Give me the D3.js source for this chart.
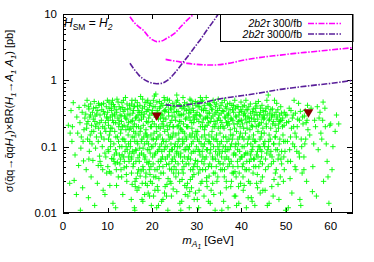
<!DOCTYPE html>
<html><head><meta charset="utf-8">
<script src="https://cdn.jsdelivr.net/npm/d3@7"></script>
<style>body{margin:0;background:#fff}svg{display:block}text{font-family:"Liberation Sans",Arial,sans-serif;}</style>
</head><body><svg id="c" width="374" height="262"></svg>
<script>
const xTicks = [0,10,20,30,40,50,60];
const yTicks = [0.01,0.1,1,10];
const yTickLabels = ["0.01","0.1","1","10"];
const seriesNames = ["2b2τ 300/fb","2b2τ 3000/fb"];
// 300/fb limit, two branches
const lim300a = [[15,9.1],[16,7.4],[17,6.4],[18,5.7],[19,4.7],[20,4.1],[21,3.83],[22,3.9],[23,4.2],[24,4.6],[25,5.1],[26,6.0],[27,7.1],[28,8.3],[29,9.5],[29.4,10]];
const lim300b = [[23,2.07],[24.5,1.98],[26.2,1.9],[28,1.8],[30,1.74],[33.6,1.7],[37,1.8],[41,2.05],[45,2.25],[48.7,2.4],[52,2.55],[56,2.7],[60,2.88],[65,3.1]];
// 3000/fb limit, two branches
const lim3000a = [[15,1.81],[16,1.45],[17,1.2],[18,1.05],[19,0.96],[20,0.91],[21,0.89],[22,0.9],[23,0.96],[24,1.08],[25,1.28],[26,1.55],[27,1.9],[28,2.3],[29,2.85],[30,3.5],[31,4.3],[32,5.4],[33,6.7],[34,8.3],[34.8,10]];
const lim3000b = [[23,0.43],[24,0.42],[26.2,0.41],[28,0.43],[30,0.45],[31.4,0.46],[33.6,0.5],[37,0.55],[40.3,0.59],[45,0.66],[48.7,0.73],[52,0.78],[56,0.84],[60,0.9],[65,1.0]];
// benchmark points
const bench = [[21,0.284],[55,0.32]];
// scan points [mA1, sigma x BR]
const scan = [
[1.2,0.21],[1.5,0.028],[1.8,0.35],[2.0,0.12],[2.3,0.46],[2.5,0.031],[2.7,0.075],[3.0,0.019],[3.1,0.28],[3.3,0.16],[3.5,0.052],[3.6,0.39],[3.8,0.23],[4.0,0.095],[4.1,0.14],[4.3,0.33],[4.4,0.024],[4.6,0.061],[4.7,0.18],[4.9,0.42],[4.9,0.27],[2.1,0.2],[3.9,0.011],[1.6,0.16],[4.5,0.12],
[5.1,0.31],[5.2,0.045],[5.3,0.19],[5.4,0.5],[5.5,0.13],[5.6,0.24],[5.7,0.017],[5.8,0.37],[5.9,0.085],[6.0,0.28],[6.1,0.15],[6.2,0.44],[6.3,0.035],[6.4,0.21],[6.5,0.11],[6.6,0.33],[6.7,0.062],[6.8,0.26],[6.9,0.17],[7.0,0.48],[7.1,0.013],[7.2,0.29],[7.3,0.095],[7.4,0.39],[7.5,0.14],[7.6,0.22],[7.7,0.028],[7.8,0.35],[7.9,0.12],[8.0,0.19],[8.1,0.42],[8.2,0.072],[8.3,0.3],[8.4,0.16],[8.5,0.052],[8.6,0.25],[8.7,0.36],[8.8,0.1],[8.9,0.2],[9.0,0.022],[9.1,0.45],[9.2,0.13],[9.3,0.31],[9.4,0.08],[9.5,0.23],[9.6,0.17],[9.7,0.4],[9.8,0.04],[9.9,0.27],[6.0,0.12],[7.3,0.2],[8.6,0.14],[9.4,0.019],[5.8,0.065],[7.9,0.052],
[10.0,0.33],[10.1,0.09],[10.2,0.21],[10.3,0.47],[10.4,0.15],[10.5,0.026],[10.6,0.28],[10.7,0.12],[10.8,0.38],[10.9,0.066],[11.0,0.19],[11.1,0.25],[11.2,0.014],[11.3,0.43],[11.4,0.11],[11.5,0.31],[11.6,0.17],[11.7,0.055],[11.8,0.23],[11.9,0.36],[12.0,0.08],[12.1,0.52],[12.2,0.14],[12.3,0.27],[12.4,0.035],[12.5,0.2],[12.6,0.4],[12.7,0.1],[12.8,0.3],[12.9,0.16],[13.0,0.045],[13.1,0.24],[13.2,0.46],[13.3,0.13],[13.4,0.019],[13.5,0.34],[13.6,0.07],[13.7,0.21],[13.8,0.29],[13.9,0.12],[14.0,0.55],[14.1,0.18],[14.2,0.038],[14.3,0.26],[14.4,0.09],[14.5,0.37],[14.6,0.15],[14.7,0.23],[14.8,0.06],[14.9,0.42],[10.4,0.042],[10.9,0.35],[11.5,0.075],[11.8,0.012],[12.2,0.058],[12.6,0.22],[13.0,0.18],[13.4,0.39],[13.9,0.085],[14.3,0.03],[14.7,0.11],[10.2,0.13],[11.1,0.5],[12.0,0.026],[12.9,0.065],[13.7,0.048],[14.5,0.2],[10.7,0.19],[11.6,0.29],[13.2,0.1],
[15.0,0.3],[15.1,0.1],[15.2,0.19],[15.3,0.016],[15.4,0.44],[15.5,0.14],[15.6,0.25],[15.7,0.05],[15.8,0.35],[15.9,0.08],[16.0,0.22],[16.1,0.011],[16.2,0.5],[16.3,0.16],[16.4,0.033],[16.5,0.28],[16.6,0.12],[16.7,0.4],[16.8,0.068],[16.9,0.2],[17.0,0.024],[17.1,0.33],[17.2,0.095],[17.3,0.17],[17.4,0.57],[17.5,0.043],[17.6,0.26],[17.7,0.13],[17.8,0.38],[17.9,0.015],[18.0,0.21],[18.1,0.075],[18.2,0.31],[18.3,0.11],[18.4,0.46],[18.5,0.028],[18.6,0.18],[18.7,0.24],[18.8,0.058],[18.9,0.36],[19.0,0.14],[19.1,0.02],[19.2,0.27],[19.3,0.09],[19.4,0.42],[19.5,0.038],[19.6,0.2],[19.7,0.15],[19.8,0.013],[19.9,0.32],[15.3,0.065],[15.7,0.2],[16.1,0.12],[16.6,0.022],[17.0,0.15],[17.5,0.3],[17.9,0.05],[18.3,0.019],[18.8,0.12],[19.2,0.055],[19.6,0.03],[15.5,0.027],[16.4,0.088],[17.3,0.036],[18.1,0.14],[19.0,0.5],[19.8,0.1],[15.9,0.4],[16.8,0.3],[17.7,0.016],[18.6,0.04],[19.4,0.018],[16.0,0.012],[18.9,0.026],
[20.0,0.24],[20.1,0.07],[20.2,0.4],[20.3,0.018],[20.4,0.16],[20.5,0.3],[20.6,0.045],[20.7,0.11],[20.8,0.62],[20.9,0.2],[21.0,0.012],[21.1,0.35],[21.2,0.085],[21.3,0.14],[21.4,0.26],[21.5,0.033],[21.6,0.48],[21.7,0.1],[21.8,0.19],[21.9,0.06],[22.0,0.31],[22.1,0.015],[22.2,0.22],[22.3,0.13],[22.4,0.42],[22.5,0.04],[22.6,0.27],[22.7,0.09],[22.8,0.17],[22.9,0.025],[23.0,0.36],[23.1,0.12],[23.2,0.054],[23.3,0.21],[23.4,0.52],[23.5,0.011],[23.6,0.15],[23.7,0.29],[23.8,0.075],[23.9,0.2],[24.0,0.03],[24.1,0.38],[24.2,0.11],[24.3,0.018],[24.4,0.25],[24.5,0.065],[24.6,0.45],[24.7,0.16],[24.8,0.04],[24.9,0.33],[20.3,0.13],[20.8,0.035],[21.3,0.022],[21.8,0.4],[22.3,0.07],[22.8,0.5],[23.3,0.027],[23.8,0.13],[24.3,0.09],[24.8,0.2],[20.5,0.58],[21.0,0.17],[21.6,0.05],[22.1,0.11],[22.7,0.35],[23.2,0.018],[23.9,0.046],[24.5,0.14],[20.0,0.028],[21.4,0.013],[22.5,0.2],[23.6,0.42],[24.7,0.023],[25.0,0.1],
[25.1,0.28],[25.2,0.06],[25.3,0.15],[25.4,0.47],[25.5,0.021],[25.6,0.2],[25.7,0.1],[25.8,0.34],[25.9,0.04],[26.0,0.13],[26.1,0.24],[26.2,0.014],[26.3,0.41],[26.4,0.08],[26.5,0.18],[26.6,0.3],[26.7,0.032],[26.8,0.11],[26.9,0.55],[27.0,0.22],[27.1,0.05],[27.2,0.16],[27.3,0.37],[27.4,0.019],[27.5,0.09],[27.6,0.27],[27.7,0.13],[27.8,0.44],[27.9,0.028],[28.0,0.2],[28.1,0.07],[28.2,0.32],[28.3,0.012],[28.4,0.15],[28.5,0.25],[28.6,0.045],[28.7,0.5],[28.8,0.11],[28.9,0.19],[29.0,0.035],[29.1,0.38],[29.2,0.085],[29.3,0.23],[29.4,0.016],[29.5,0.14],[29.6,0.3],[29.7,0.062],[29.8,0.42],[29.9,0.1],[25.3,0.035],[25.8,0.12],[26.3,0.19],[26.8,0.06],[27.3,0.026],[27.8,0.1],[28.3,0.36],[28.8,0.024],[29.3,0.05],[29.8,0.17],[25.5,0.6],[26.0,0.3],[26.6,0.015],[27.1,0.12],[27.7,0.2],[28.2,0.055],[28.7,0.14],[29.2,0.28],[29.7,0.02],[25.9,0.075],[27.0,0.4],[28.0,0.018],[29.0,0.16],
[30.0,0.26],[30.1,0.05],[30.2,0.17],[30.3,0.4],[30.4,0.012],[30.5,0.12],[30.6,0.3],[30.7,0.075],[30.8,0.2],[30.9,0.028],[31.0,0.48],[31.1,0.14],[31.2,0.23],[31.3,0.045],[31.4,0.1],[31.5,0.35],[31.6,0.018],[31.7,0.18],[31.8,0.065],[31.9,0.27],[32.0,0.13],[32.1,0.55],[32.2,0.034],[32.3,0.21],[32.4,0.09],[32.5,0.32],[32.6,0.015],[32.7,0.15],[32.8,0.43],[32.9,0.055],[33.0,0.24],[33.1,0.11],[33.2,0.022],[33.3,0.37],[33.4,0.17],[33.5,0.07],[33.6,0.29],[33.7,0.04],[33.8,0.13],[33.9,0.46],[34.0,0.2],[34.1,0.011],[34.2,0.085],[34.3,0.33],[34.4,0.15],[34.5,0.03],[34.6,0.25],[34.7,0.1],[34.8,0.52],[34.9,0.06],[30.3,0.09],[30.8,0.55],[31.3,0.2],[31.8,0.38],[32.3,0.025],[32.8,0.12],[33.3,0.05],[33.8,0.019],[34.3,0.13],[34.8,0.19],[30.5,0.022],[31.1,0.06],[31.7,0.11],[32.4,0.27],[33.0,0.014],[33.6,0.2],[34.2,0.4],[34.7,0.035],
[35.0,0.3],[35.1,0.08],[35.2,0.16],[35.3,0.02],[35.4,0.42],[35.5,0.12],[35.6,0.23],[35.7,0.045],[35.8,0.35],[35.9,0.1],[36.0,0.015],[36.1,0.19],[36.2,0.5],[36.3,0.065],[36.4,0.27],[36.5,0.14],[36.6,0.03],[36.7,0.38],[36.8,0.09],[36.9,0.21],[37.0,0.012],[37.1,0.32],[37.2,0.13],[37.3,0.055],[37.4,0.45],[37.5,0.18],[37.6,0.025],[37.7,0.26],[37.8,0.11],[37.9,0.04],[38.0,0.36],[38.1,0.15],[38.2,0.075],[38.3,0.22],[38.4,0.018],[38.5,0.5],[38.6,0.1],[38.7,0.29],[38.8,0.035],[38.9,0.17],[39.0,0.4],[39.1,0.06],[39.2,0.13],[39.3,0.24],[39.4,0.014],[39.5,0.33],[39.6,0.085],[39.7,0.2],[39.8,0.028],[39.9,0.47],[35.3,0.2],[35.9,0.055],[36.4,0.1],[37.0,0.24],[37.6,0.15],[38.1,0.05],[38.7,0.018],[39.3,0.11],[39.8,0.16],[35.6,0.011],[36.8,0.3],[38.2,0.42],[39.5,0.04],
[40.0,0.25],[40.1,0.07],[40.2,0.14],[40.3,0.4],[40.4,0.022],[40.5,0.19],[40.6,0.1],[40.7,0.32],[40.8,0.045],[40.9,0.16],[41.0,0.5],[41.1,0.012],[41.2,0.23],[41.3,0.08],[41.4,0.36],[41.5,0.13],[41.6,0.03],[41.7,0.27],[41.8,0.06],[41.9,0.18],[42.0,0.44],[42.1,0.11],[42.2,0.017],[42.3,0.21],[42.4,0.09],[42.5,0.34],[42.6,0.04],[42.7,0.15],[42.8,0.26],[42.9,0.065],[43.0,0.013],[43.1,0.38],[43.2,0.12],[43.3,0.2],[43.4,0.028],[43.5,0.3],[43.6,0.085],[43.7,0.17],[43.8,0.48],[43.9,0.05],[44.0,0.22],[44.1,0.1],[44.2,0.02],[44.3,0.33],[44.4,0.14],[44.5,0.07],[44.6,0.42],[44.7,0.035],[44.8,0.19],[44.9,0.26],[40.4,0.055],[41.5,0.017],[42.6,0.13],[43.6,0.024],[44.5,0.16],[40.9,0.29],[42.0,0.075],[43.2,0.45],[44.2,0.06],
[45.0,0.3],[45.2,0.1],[45.4,0.045],[45.6,0.2],[45.8,0.013],[46.0,0.6],[46.2,0.15],[46.4,0.075],[46.6,0.36],[46.8,0.025],[47.0,0.22],[47.2,0.11],[47.4,0.5],[47.6,0.04],[47.8,0.17],[48.0,0.28],[48.2,0.065],[48.4,0.016],[48.6,0.13],[48.8,0.4],[49.0,0.085],[49.2,0.2],[49.4,0.03],[49.6,0.33],[49.8,0.12],[45.1,0.16],[45.5,0.38],[45.9,0.09],[46.3,0.26],[46.7,0.055],[47.1,0.018],[47.5,0.14],[47.9,0.45],[48.3,0.19],[48.7,0.035],[49.1,0.25],[49.5,0.07],[49.9,0.011],[45.3,0.022],[46.1,0.12],[46.9,0.3],[47.7,0.09],[48.5,0.24],[49.3,0.15],[45.7,0.5],[47.3,0.032],
[50.1,0.23],[50.4,0.06],[50.7,0.38],[51.0,0.14],[51.3,0.02],[51.6,0.3],[51.9,0.1],[52.2,0.045],[52.5,0.2],[52.8,0.45],[53.1,0.016],[53.4,0.13],[53.7,0.28],[54.0,0.07],[54.3,0.35],[54.6,0.03],[54.9,0.18],[50.5,0.012],[51.2,0.19],[51.8,0.5],[52.4,0.085],[53.0,0.25],[53.6,0.04],[54.2,0.11],[54.8,0.42],[50.9,0.033],[52.0,0.16],[53.3,0.013],[54.5,0.23],
[55.3,0.15],[55.6,0.38],[56.0,0.05],[56.4,0.25],[56.8,0.018],[57.2,0.09],[57.6,0.33],[58.0,0.13],[58.4,0.03],[58.8,0.2],[59.2,0.06],[59.6,0.014],[60.0,0.22],[60.5,0.1],[61.0,0.17],[55.9,0.021],[57.0,0.4],[58.2,0.25],[59.4,0.035],[61.3,0.3],[56.2,0.11],[60.3,0.045],
[5.35,0.22],[5.75,0.4],[6.15,0.3],[6.45,0.17],[6.85,0.38],[7.15,0.24],[7.55,0.31],[7.95,0.45],[8.25,0.23],[8.65,0.43],[9.05,0.34],[9.35,0.19],[9.75,0.28],[9.95,0.5],
[10.15,0.25],[10.35,0.38],[10.55,0.17],[10.85,0.44],[11.05,0.3],[11.35,0.23],[11.55,0.4],[11.85,0.14],[12.05,0.33],[12.35,0.47],[12.55,0.25],[12.85,0.37],[13.05,0.29],[13.35,0.2],[13.55,0.5],[13.85,0.36],[14.05,0.27],[14.35,0.44],[14.55,0.31],[14.85,0.18],
[10.25,0.085],[10.65,0.1],[11.25,0.065],[11.75,0.09],[12.45,0.12],[12.75,0.055],[13.25,0.075],[13.65,0.13],[14.15,0.1],[14.65,0.07],
[15.05,0.37],[15.25,0.24],[15.45,0.5],[15.65,0.32],[15.85,0.17],[16.05,0.41],[16.25,0.27],[16.45,0.2],[16.65,0.46],[16.85,0.35],[17.05,0.25],[17.25,0.42],[17.45,0.19],[17.65,0.33],[17.85,0.52],[18.05,0.28],[18.25,0.4],[18.45,0.16],[18.65,0.34],[18.85,0.47],[19.05,0.23],[19.25,0.36],[19.45,0.3],[19.65,0.45],[19.85,0.2],
[15.15,0.12],[15.55,0.085],[15.95,0.14],[16.35,0.06],[16.75,0.11],[17.15,0.075],[17.55,0.12],[17.95,0.095],[18.35,0.065],[18.75,0.15],[19.15,0.11],[19.55,0.08],[19.95,0.13],
[15.35,0.04],[16.15,0.03],[16.95,0.045],[17.75,0.028],[18.55,0.035],[19.35,0.045],
[20.05,0.35],[20.25,0.5],[20.45,0.22],[20.65,0.4],[20.85,0.28],[21.05,0.47],[21.25,0.33],[21.45,0.2],[21.65,0.38],[21.85,0.27],[22.05,0.45],[22.25,0.3],[22.45,0.24],[22.65,0.55],[22.85,0.34],[23.05,0.26],[23.25,0.42],[23.45,0.18],[23.65,0.33],[23.85,0.5],[24.05,0.23],[24.25,0.36],[24.45,0.29],[24.65,0.2],[24.85,0.4],
[20.15,0.1],[20.55,0.075],[20.95,0.13],[21.35,0.06],[21.75,0.15],[22.15,0.085],[22.55,0.12],[22.95,0.065],[23.35,0.1],[23.75,0.055],[24.15,0.14],[24.55,0.09],[24.95,0.07],
[20.35,0.035],[21.15,0.025],[21.95,0.04],[22.75,0.02],[23.55,0.033],[24.35,0.045],
[25.05,0.4],[25.25,0.25],[25.45,0.34],[25.65,0.5],[25.85,0.21],[26.05,0.43],[26.25,0.3],[26.45,0.24],[26.65,0.38],[26.85,0.17],[27.05,0.31],[27.25,0.46],[27.45,0.26],[27.65,0.35],[27.85,0.2],[28.05,0.41],[28.25,0.28],[28.45,0.52],[28.65,0.33],[28.85,0.23],[29.05,0.45],[29.25,0.35],[29.45,0.26],[29.65,0.48],[29.85,0.3],
[25.15,0.11],[25.55,0.085],[25.95,0.16],[26.35,0.07],[26.75,0.13],[27.15,0.09],[27.55,0.14],[27.95,0.065],[28.35,0.1],[28.75,0.08],[29.15,0.12],[29.55,0.055],[29.95,0.15],
[25.35,0.045],[26.15,0.03],[26.95,0.04],[27.75,0.024],[28.55,0.032],[29.35,0.038],
[30.05,0.33],[30.25,0.46],[30.45,0.24],[30.65,0.4],[30.85,0.29],[31.05,0.36],[31.25,0.5],[31.45,0.26],[31.65,0.42],[31.85,0.2],[32.05,0.35],[32.25,0.28],[32.45,0.45],[32.65,0.23],[32.85,0.32],[33.05,0.42],[33.25,0.27],[33.45,0.36],[33.65,0.5],[33.85,0.24],[34.05,0.31],[34.25,0.22],[34.45,0.44],[34.65,0.35],[34.85,0.27],
[30.15,0.13],[30.55,0.085],[30.95,0.11],[31.35,0.07],[31.75,0.15],[32.15,0.09],[32.55,0.12],[32.95,0.08],[33.35,0.14],[33.75,0.1],[34.15,0.065],[34.55,0.12],[34.95,0.09],
[30.35,0.04],[31.15,0.03],[31.95,0.045],[32.75,0.036],[33.55,0.028],[34.35,0.05],
[35.05,0.38],[35.25,0.25],[35.45,0.32],[35.65,0.46],[35.85,0.2],[36.05,0.34],[36.25,0.28],[36.45,0.4],[36.65,0.23],[36.85,0.44],[37.05,0.3],[37.25,0.22],[37.45,0.36],[37.65,0.27],[37.85,0.42],[38.05,0.25],[38.25,0.33],[38.45,0.19],[38.65,0.38],[38.85,0.28],[39.05,0.22],[39.25,0.4],[39.45,0.3],[39.65,0.25],[39.85,0.36],
[35.15,0.11],[35.55,0.07],[35.95,0.14],[36.35,0.085],[36.75,0.12],[37.15,0.065],[37.55,0.1],[37.95,0.13],[38.35,0.08],[38.75,0.11],[39.15,0.09],[39.55,0.14],[39.95,0.07],
[35.35,0.045],[36.15,0.035],[36.95,0.05],[37.75,0.03],[38.55,0.042],[39.35,0.025],
[40.05,0.34],[40.25,0.22],[40.45,0.3],[40.65,0.42],[40.85,0.26],[41.05,0.36],[41.25,0.19],[41.45,0.28],[41.65,0.4],[41.85,0.24],[42.05,0.32],[42.25,0.27],[42.45,0.2],[42.65,0.37],[42.85,0.3],[43.05,0.24],[43.25,0.33],[43.45,0.41],[43.65,0.26],[43.85,0.21],[44.05,0.3],[44.25,0.38],[44.45,0.23],[44.65,0.28],[44.85,0.35],
[40.15,0.1],[40.55,0.13],[40.95,0.08],[41.35,0.11],[41.75,0.14],[42.15,0.065],[42.55,0.1],[42.95,0.12],[43.35,0.075],[43.75,0.1],[44.15,0.13],[44.55,0.085],[44.95,0.11],
[40.35,0.035],[41.15,0.045],[41.95,0.028],[42.75,0.05],[43.55,0.038],[44.35,0.03],
[45.15,0.27],[45.35,0.34],[45.55,0.22],[45.75,0.3],[45.95,0.4],[46.15,0.25],[46.35,0.32],[46.55,0.19],[46.75,0.28],[46.95,0.37],[47.15,0.24],[47.35,0.3],[47.55,0.21],[47.75,0.33],[47.95,0.26],[48.15,0.36],[48.35,0.22],[48.55,0.3],[48.75,0.25],[48.95,0.32],[49.25,0.27],[49.55,0.21],[49.85,0.3],
[45.25,0.12],[45.65,0.08],[46.05,0.1],[46.45,0.13],[46.85,0.07],[47.25,0.11],[47.65,0.14],[48.05,0.09],[48.45,0.11],[48.85,0.065],[49.45,0.12],[49.75,0.085],
[50.2,0.3],[50.6,0.24],[51.1,0.35],[51.4,0.27],[51.7,0.2],[52.1,0.32],[52.6,0.26],[53.2,0.34],[53.8,0.22],[54.1,0.29],[54.7,0.25],[50.3,0.12],[50.8,0.09],[51.5,0.11],[52.3,0.14],[52.9,0.08],[53.5,0.1],[54.4,0.13],
[56.6,0.2],[57.4,0.27],[58.3,0.47],[58.7,0.38],[59.8,0.21],[61.8,0.22],[57.8,0.16],[59.0,0.11],
[8.3,0.06],[8.9,0.045],[9.6,0.07],[10.05,0.05],[10.75,0.04],[11.45,0.06],[11.95,0.045],[12.65,0.075],[13.15,0.035],[13.75,0.06],[14.25,0.05],[14.95,0.08],
[15.4,0.07],[15.8,0.055],[16.3,0.09],[16.7,0.04],[17.1,0.06],[17.6,0.08],[18.0,0.045],[18.4,0.07],[18.9,0.09],[19.3,0.06],[19.7,0.05],
[20.2,0.055],[20.7,0.08],[21.1,0.045],[21.5,0.09],[22.0,0.065],[22.4,0.05],[22.9,0.1],[23.4,0.07],[23.9,0.085],[24.4,0.06],[24.9,0.05],
[25.4,0.08],[25.8,0.055],[26.2,0.1],[26.7,0.045],[27.2,0.07],[27.6,0.055],[28.1,0.09],[28.6,0.065],[29.1,0.045],[29.6,0.085],
[30.2,0.06],[30.7,0.045],[31.2,0.085],[31.6,0.055],[32.1,0.07],[32.6,0.05],[33.1,0.09],[33.6,0.065],[34.1,0.04],[34.6,0.075],
[35.2,0.055],[35.7,0.085],[36.2,0.045],[36.7,0.07],[37.2,0.09],[37.7,0.06],[38.2,0.04],[38.7,0.075],[39.2,0.05],[39.7,0.065],
[40.2,0.05],[40.7,0.075],[41.2,0.06],[41.7,0.045],[42.2,0.085],[42.7,0.065],[43.2,0.05],[43.7,0.07],[44.2,0.09],[44.7,0.055],
[45.4,0.065],[46.0,0.05],[46.6,0.085],[47.2,0.06],[47.8,0.045],[48.4,0.075],[49.0,0.055],[49.6,0.045],
[51.0,0.06],[52.0,0.05],[53.0,0.07],[54.0,0.045],
[16.2,0.025],[20.6,0.022],[24.2,0.028],[28.4,0.021],[32.2,0.03],[36.6,0.024],[40.6,0.026],[44.8,0.022],[48.2,0.027],[46.2,0.014],[38.9,0.013],[30.1,0.016],[26.4,0.011],[22.4,0.016],[42.4,0.015]
];

const svg = d3.select("#c");
const L=63,R=353,T=14,B=213;
const x = d3.scaleLinear([0,65],[L,R]);
const y = d3.scaleLog([0.01,10],[B,T]);

svg.append("defs").append("clipPath").attr("id","clip")
  .append("rect").attr("x",L).attr("y",T).attr("width",R-L).attr("height",B-T);

// axes ticks (inward)
const ax = svg.append("g").attr("stroke","#000").attr("stroke-width",1);
xTicks.forEach(v=>{
  const px=Math.round(x(v))+0.5;
  ax.append("line").attr("x1",px).attr("x2",px).attr("y1",B).attr("y2",B-5);
  ax.append("line").attr("x1",px).attr("x2",px).attr("y1",T).attr("y2",T+5);
});
const minor=[];
[0.01,0.1,1].forEach(d=>{for(let k=2;k<=9;k++) minor.push(d*k);});
minor.forEach(v=>{
  const py=Math.round(y(v))+0.5;
  ax.append("line").attr("x1",L).attr("x2",L+3).attr("y1",py).attr("y2",py);
  ax.append("line").attr("x1",R).attr("x2",R-3).attr("y1",py).attr("y2",py);
});
yTicks.forEach(v=>{
  const py=Math.round(y(v))+0.5;
  ax.append("line").attr("x1",L).attr("x2",L+6).attr("y1",py).attr("y2",py);
  ax.append("line").attr("x1",R).attr("x2",R-6).attr("y1",py).attr("y2",py);
});

// tick labels
svg.append("g").selectAll("text").data(xTicks).join("text")
  .attr("x",d=>x(d)).attr("y",B+17).attr("text-anchor","middle")
  .attr("font-size",11.5).text(d=>d);
svg.append("g").selectAll("text").data(yTicks).join("text")
  .attr("x",L-6).attr("y",d=>y(d)+4).attr("text-anchor","end")
  .attr("font-size",11.5).text((d,i)=>yTickLabels[i]);

// scatter
const plot = svg.append("g").attr("clip-path","url(#clip)");
plot.append("path")
  .attr("d", scan.map(d=>{const px=x(d[0]),py=y(d[1]);return `M${px-2.7},${py}h5.4M${px},${py-2.7}v5.4`;}).join(""))
  .attr("stroke","#00ff00").attr("stroke-width",1).attr("fill","none").attr("stroke-opacity",0.9);

// limit curves
const line = d3.line().x(d=>x(d[0])).y(d=>y(d[1])).curve(d3.curveMonotoneX);
const c300="#ff00ff", c3000="#5a1f9a";
[[lim300a,c300],[lim300b,c300],[lim3000a,c3000],[lim3000b,c3000]].forEach(([data,col])=>{
  plot.append("path").attr("d",line(data)).attr("fill","none").attr("stroke",col)
    .attr("stroke-width",1.6).attr("stroke-dasharray","6,1.5,1.5,1.5");
});

// benchmark triangles
plot.selectAll("path.tri").data(bench).join("path").attr("class","tri")
  .attr("d",d=>{const px=x(d[0]),py=y(d[1]);return `M${px-5},${py-4}L${px+5},${py-4}L${px},${py+4.5}Z`;})
  .attr("fill","#8b0000");

// legend
const lg = svg.append("g");
lg.append("rect").attr("x",220.5).attr("y",14.5).attr("width",R-220.5).attr("height",27)
  .attr("fill","#fff").attr("stroke","#000").attr("stroke-width",1);
[[c300,0],[c3000,1]].forEach(([col,i])=>{
  const yy=23.5+i*10.5;
  const t=lg.append("text").attr("x",302).attr("y",yy+3.5).attr("text-anchor","end").attr("font-size",10.5);
  t.append("tspan").attr("font-style","italic").text(seriesNames[i].split(" ")[0]);
  t.append("tspan").text(" "+seriesNames[i].split(" ")[1]);
  lg.append("line").attr("x1",308).attr("x2",341).attr("y1",yy).attr("y2",yy)
    .attr("stroke",col).attr("stroke-width",1.6).attr("stroke-dasharray","6,1.5,1.5,1.5");
});

// frame
svg.append("rect").attr("x",L+0.5).attr("y",T+0.5).attr("width",R-L-1).attr("height",B-T-1)
  .attr("fill","none").attr("stroke","#000").attr("stroke-width",1);

// H_SM = H_2
const hs = svg.append("text").attr("x",64).attr("y",27).attr("font-size",12);
hs.append("tspan").attr("font-style","italic").text("H");
hs.append("tspan").attr("font-size",8.5).attr("dy",3).text("SM");
hs.append("tspan").attr("dy",-3).text(" = ");
hs.append("tspan").attr("font-style","italic").text("H");
hs.append("tspan").attr("font-size",8.5).attr("font-style","italic").attr("dy",3).text("2");

// x label
const xl = svg.append("text").attr("x",208).attr("y",244).attr("text-anchor","middle").attr("font-size",11.5);
xl.append("tspan").attr("font-style","italic").text("m");
xl.append("tspan").attr("font-style","italic").attr("font-size",8.5).attr("dy",3).text("A");
xl.append("tspan").attr("font-style","italic").attr("font-size",6.5).attr("dy",2).text("1");
xl.append("tspan").attr("dy",-5).text(" [GeV]");

// y label
const yl = svg.append("text").attr("transform","translate(13,111) rotate(-90)").attr("text-anchor","middle").attr("font-size",11);
yl.append("tspan").text("σ(q̄q→q̄q");
yl.append("tspan").attr("font-style","italic").text("H");
yl.append("tspan").attr("font-style","italic").attr("font-size",8).attr("dy",3).text("1");
yl.append("tspan").attr("dy",-3).text(")×BR(");
yl.append("tspan").attr("font-style","italic").text("H");
yl.append("tspan").attr("font-style","italic").attr("font-size",8).attr("dy",3).text("1");
yl.append("tspan").attr("dy",-3).text("→");
yl.append("tspan").attr("font-style","italic").text("A");
yl.append("tspan").attr("font-style","italic").attr("font-size",8).attr("dy",3).text("1");
yl.append("tspan").attr("dy",-3).text(" ");
yl.append("tspan").attr("font-style","italic").text("A");
yl.append("tspan").attr("font-style","italic").attr("font-size",8).attr("dy",3).text("1");
yl.append("tspan").attr("dy",-3).text(") [pb]");
</script></body></html>
